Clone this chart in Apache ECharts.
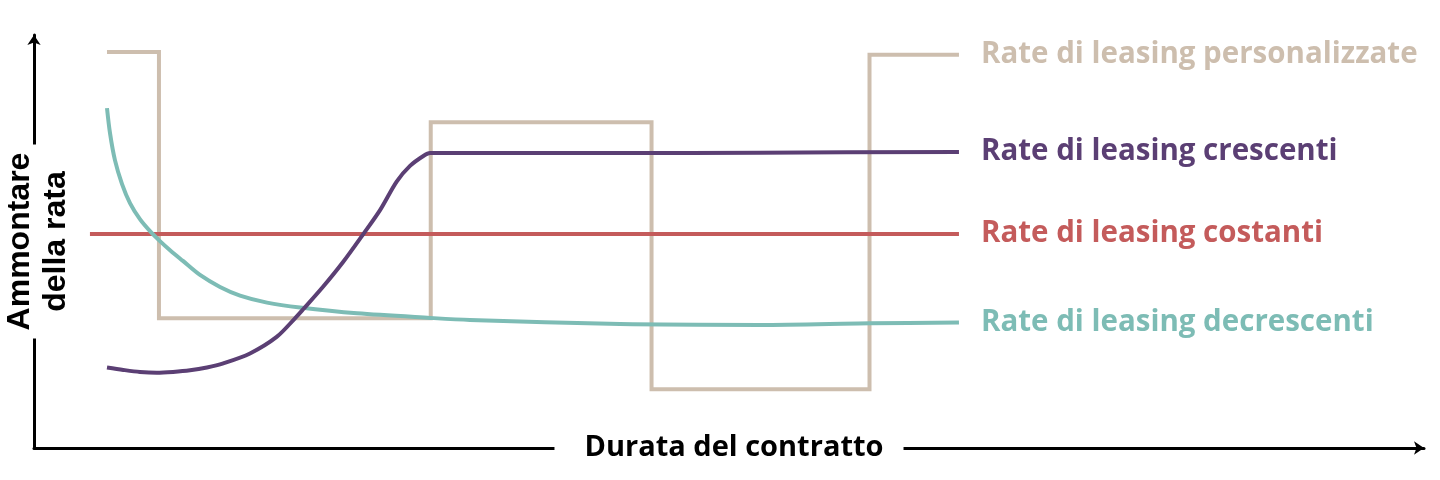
<!DOCTYPE html>
<html>
<head>
<meta charset="utf-8">
<script src="https://cdn.jsdelivr.net/npm/echarts@6/dist/echarts.min.js"></script>
<style>
html,body{margin:0;padding:0;background:#fff;}
#chart{width:1440px;height:480px;}
</style>
</head>
<body>
<div id="chart"></div>
<script>
// Axis titles
const xAxisTitle = 'Durata del contratto';
const yAxisTitle = 'Ammontare\ndella rata';

// Series names (shown at the end of each line)
const seriesNames = [
  'Rate di leasing personalizzate',
  'Rate di leasing crescenti',
  'Rate di leasing costanti',
  'Rate di leasing decrescenti'
];

// [durata (mesi), ammontare]
const personalizzate = [
  [0, 95.9], [3.66, 95.9], [3.66, 31.4], [22.8, 31.4], [22.8, 78.9],
  [38.35, 78.9], [38.35, 14.2], [53.7, 14.2], [53.7, 95.2], [60, 95.2]
];
const crescenti = [
  [0, 19.5], [1.15, 18.9], [2.32, 18.4], [3.5, 18.2], [4.65, 18.4],
  [5.85, 18.8], [7.04, 19.5], [8.19, 20.5], [10.07, 22.9], [11.95, 26.9],
  [13.24, 31.4], [13.82, 33.6], [15.23, 39.1], [16.64, 45.1], [18.05, 51.8],
  [19.23, 57.6], [20.4, 64.5], [21.34, 68.3], [22.28, 70.7], [22.75, 71.4],
  [25.56, 71.4], [36.13, 71.4], [46, 71.5], [60, 71.7]
];
const costanti = [[-1.2, 51.8], [60, 51.8]];
const decrescenti = [
  [0, 82.3], [0.21, 76.3], [0.56, 69.7], [1.06, 63.9], [1.62, 59.3],
  [2.32, 55.4], [3.03, 52.5], [3.73, 50.1], [4.44, 47.9], [5.35, 45.3],
  [6.55, 41.9], [7.96, 39.0], [9.37, 36.9], [11.27, 35.2], [13.59, 34.0],
  [17.61, 32.6], [22.75, 31.5], [25.56, 31.0], [36.13, 30.0], [45.99, 29.8],
  [53.73, 30.2], [60, 30.4]
];

const colors = ['#cdbeae', '#5b3f74', '#c45b5b', '#7dbcb5'];

const chart = echarts.init(document.getElementById('chart'));

function lineSeries(name, data, color, smooth, z) {
  return {
    name: name,
    type: 'line',
    data: data,
    smooth: smooth,
    showSymbol: false,
    symbol: 'none',
    z: z,
    lineStyle: { color: color, width: 4, join: 'miter', cap: 'butt' },
    endLabel: {
      show: true,
      formatter: function (p) { return p.seriesName; },
      color: color,
      fontFamily: 'Open Sans',
      fontWeight: 'bold',
      fontSize: 29.5,
      distance: 22
    },
    emphasis: { disabled: true }
  };
}

const hidden = {
  axisTick: { show: false },
  axisLabel: { show: false },
  splitLine: { show: false }
};

chart.setOption({
  animation: false,
  backgroundColor: '#fff',
  grid: { left: 34, right: 16, top: 35, bottom: 32, containLabel: false, outerBoundsMode: 'none' },
  xAxis: [{
    type: 'value',
    min: -5.14,
    max: 92.75,
    z: 1,
    axisLine: {
      show: true,
      onZero: false,
      lineStyle: { color: '#000', width: 3 },
      symbol: ['none', 'arrow'],
      symbolSize: [10, 10]
    },
    ...hidden
  }, {
    type: 'value',
    position: 'bottom',
    min: -5.14,
    max: 92.75,
    z: 10,
    axisLine: { show: false, onZero: false },
    ...hidden,
    name: xAxisTitle,
    nameLocation: 'middle',
    nameGap: 0,
    nameTextStyle: {
      color: '#000',
      fontFamily: 'Open Sans',
      fontWeight: 'bold',
      fontSize: 29,
      verticalAlign: 'middle',
      align: 'center',
      backgroundColor: '#fff',
      padding: [2, 20, 2, 30]
    }
  }],
  yAxis: [{
    type: 'value',
    min: 0,
    max: 100,
    z: 1,
    axisLine: {
      show: true,
      onZero: false,
      lineStyle: { color: '#000', width: 3 },
      symbol: ['none', 'arrow'],
      symbolSize: [10, 10]
    },
    ...hidden
  }, {
    type: 'value',
    position: 'left',
    min: 0,
    max: 100,
    z: 10,
    axisLine: { show: false, onZero: false },
    ...hidden,
    name: yAxisTitle,
    nameLocation: 'middle',
    nameGap: -4,
    nameRotate: 90,
    nameTextStyle: {
      color: '#000',
      fontFamily: 'Liberation Sans',
      fontWeight: 'bold',
      fontSize: 32,
      lineHeight: 36,
      verticalAlign: 'middle',
      align: 'center',
      backgroundColor: '#fff',
      padding: [0, 8]
    }
  }],
  series: [
    lineSeries(seriesNames[0], personalizzate, colors[0], false, 2),
    lineSeries(seriesNames[1], crescenti, colors[1], 0.3, 5),
    lineSeries(seriesNames[2], costanti, colors[2], false, 3),
    lineSeries(seriesNames[3], decrescenti, colors[3], 0.3, 4)
  ]
});
</script>
</body>
</html>
